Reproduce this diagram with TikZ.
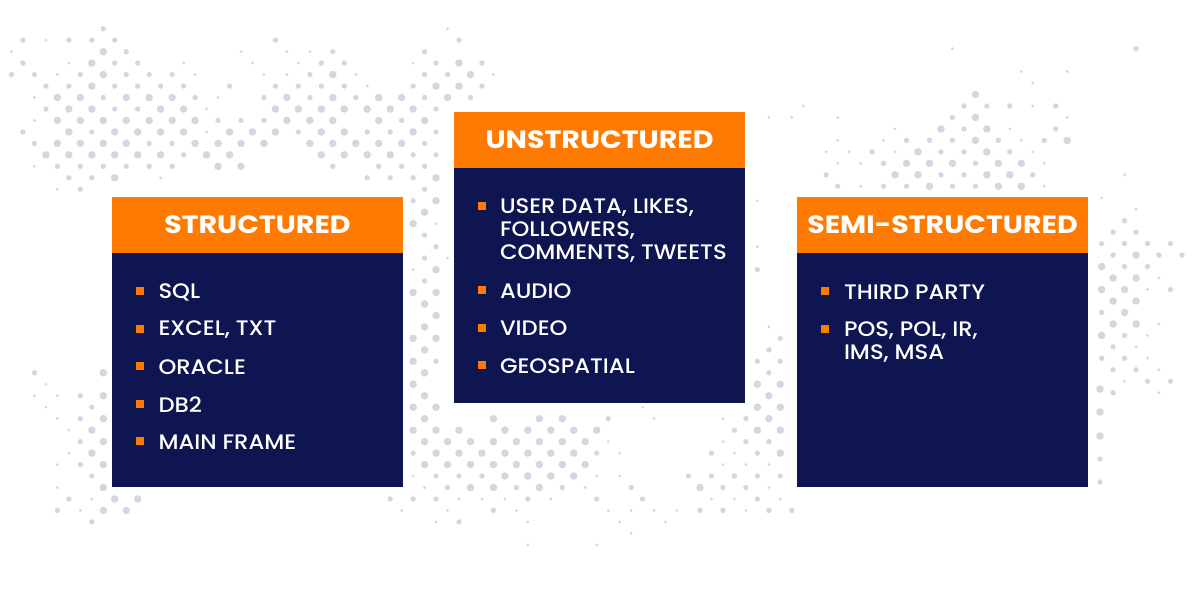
\documentclass[tikz,border=0pt]{standalone}
\usepackage{fontspec}
\setmainfont{Poppins}
\newfontfamily\headfont[FakeStretch=1.14]{Poppins}[BoldFont={* Bold}]
\newfontfamily\entryfont[FakeStretch=1.08]{Poppins Medium}
\usetikzlibrary{positioning}
\definecolor{headorange}{HTML}{FF7A00}
\definecolor{bodynavy}{HTML}{0F1551}
\definecolor{mapgrey}{HTML}{D5D6E1}
\newcommand{\maprows}[1]{%
  \foreach \rw/\pts in {#1} {
    \foreach \cl/\sz in \pts {
      \fill[mapgrey] ({22.95*\cl+11.5*(1-mod(\rw,2))},{28.7+11.47*\rw}) circle[radius=1.1*\sz+0.5];
    }
  }}

\begin{document}
\begin{tikzpicture}[x=1pt,y=-1pt,node distance=29.5pt,
    head/.style={rectangle,fill=headorange,text=white,minimum width=291pt,minimum height=56pt,inner sep=0pt,outer sep=0pt,font=\headfont\fontsize{25}{28}\selectfont\bfseries},
    body/.style={rectangle,fill=bodynavy,minimum width=291pt,inner sep=0pt,outer sep=0pt},
    tick/.style={rectangle,fill=headorange,minimum size=8pt,inner sep=0pt,outer sep=0pt},
    entry/.style={text=white,inner sep=0pt,outer sep=0pt,align=left,yshift=-1pt,font=\entryfont\fontsize{21}{23}\selectfont}]

  \useasboundingbox (0,0) rectangle (1200,600);

  \maprows{0/{4/2,19/1},
    1/{1/2,2/1,3/2,4/2,5/2,12/2,20/2},
    2/{0/1,4/3,5/2,10/1,12/1,13/1,14/2,18/2},
    3/{1/2,3/1,4/3,5/2,6/2,8/1,11/1,13/1,14/2,15/2,18/1,19/2,20/3,21/2},
    4/{0/2,1/2,2/1,3/2,4/3,5/2,6/2,7/2,8/1,11/1,12/1,13/2,14/3,15/1,18/2,19/2,20/3,21/1},
    5/{2/2,3/2,4/3,5/2,6/2,7/2,8/2,10/2,12/2,13/2,14/2,15/2,16/1,18/2,19/3,20/3,21/2},
    6/{1/1,2/3,3/3,4/2,5/3,6/3,7/3,8/2,9/1,11/2,12/3,13/2,14/3,15/2,16/3,17/3,18/2,19/3,20/2},
    7/{2/2,3/3,4/3,5/2,6/2,7/3,8/3,9/1,12/3,13/3,14/3,15/3,16/3,17/3,18/3,19/2},
    8/{1/1,2/3,3/3,4/3,5/3,6/3,7/3,8/3,9/2,10/2,11/2,12/3,13/3,14/3,16/3,17/2,18/3},
    9/{1/2,3/3,4/2,5/3,6/3,7/3,8/3,9/1,10/3,11/3,12/3,13/2,14/3,15/3,16/2,17/2,18/3,19/2},
    10/{1/2,2/3,3/3,4/3,5/3,6/2,7/2,8/3,9/3,10/3,11/3,13/3,14/3,15/3,16/3,17/3,18/2},
    11/{2/3,3/3,4/3,5/3,6/3,7/3,8/2,9/3,10/3,14/3,15/3,16/3,17/3,18/2,19/2},
    12/{1/1,2/2,3/2,4/2,5/2,6/2,7/2,9/3,10/3,14/2,16/2,17/2,18/2},
    13/{3/2,4/2,5/3,7/1,16/2,17/2,18/2,19/3},
    14/{2/1,3/2,18/2},
    15/{18/2,19/3,33/1},
    16/{18/3},
    17/{18/3,19/1},
    18/{18/2},
    19/{19/2,33/1},
    20/{18/2,19/1},
    21/{18/1,19/3,33/2},
    22/{18/2},
    23/{18/3,19/3},
    24/{18/3},
    25/{19/3},
    26/{18/3,33/1},
    27/{18/3,19/3,34/2},
    28/{18/3,33/2},
    29/{18/3,19/2,33/2,34/2},
    30/{1/2,4/3,18/3,33/2},
    31/{2/1,18/3,33/3,34/3},
    32/{1/1,2/1,3/2,4/3,18/3,33/3},
    33/{2/1,4/2,18/3,19/3,28/1,33/3,34/3},
    34/{2/1,3/2,4/3,18/3,21/3,23/3,24/3,26/2,28/1,31/1,32/2,33/3},
    35/{3/1,4/3,18/3,19/3,20/3,22/3,23/3,24/3,25/3,26/3,32/2,33/3,34/3},
    36/{3/2,4/3,18/3,19/3,20/3,21/3,22/3,23/3,24/3,25/3,26/1,31/1,32/2,33/2},
    37/{3/1,4/3,18/2,19/3,20/3,21/3,22/3,23/3,24/3,25/3,26/2,27/1,31/2,32/1,33/2,34/3},
    38/{2/1,3/2,4/3,18/3,19/3,20/3,21/3,22/3,23/3,24/3,25/3,31/1,32/1,33/1},
    39/{4/2,18/1,19/2,20/2,21/2,22/3,23/3,24/3,25/3,26/1,27/1,30/2,31/2,32/2,33/2,34/2},
    40/{2/1,4/3,18/1,19/2,20/3,21/3,22/2,23/3,24/2,25/1,27/2,30/3,31/2,32/2,33/1},
    41/{3/2,4/1,5/3,6/3,17/2,18/2,19/2,20/1,21/1,22/1,23/2,24/1,26/2,28/2,31/1,32/1,33/2,34/1},
    42/{2/2,3/1,4/3,5/3,17/1,19/1,21/2,22/1,26/1,27/1,28/1,29/1,30/2,31/2,32/1,33/2,34/2},
    43/{4/2,19/1,20/2,23/1,27/1,29/1},
    44/{27/1},
    45/{23/1,26/1}}

  \begin{scope}[yshift=3pt]
    \maprows{2/{41/1,49/2},
      4/{44/1,46/1},
      5/{45/1},
      6/{42/3},
      7/{35/1,42/2,43/2,44/2,45/1,46/2},
      8/{33/1,34/1,36/1,41/2,42/3,46/1},
      9/{39/1,41/3,42/2,43/3,44/1,46/2},
      10/{36/1,38/1,39/2,40/2,41/2,42/3,43/2,44/1,45/2,46/3},
      11/{36/1,37/1,38/2,39/1,40/3,41/2,42/2,43/3,44/2,45/1},
      12/{36/1,37/1,38/2,39/3,40/3,41/3,42/2,43/3,44/3,45/1},
      13/{36/2,39/3,40/3,41/2,42/2,43/3,44/3,45/2,49/1},
      14/{36/2,37/1,38/2,39/2,40/3,41/2,42/2,43/3,44/3,45/1},
      15/{48/1},
      16/{49/1},
      17/{49/2},
      18/{48/2,49/2},
      19/{48/2,49/2,50/2,51/2},
      20/{48/2,49/3,50/2,51/2},
      21/{48/3,49/2,50/2},
      22/{48/3,49/3,50/1},
      23/{48/3,49/3,50/1,51/2},
      24/{48/3,49/3},
      25/{48/2,49/3},
      26/{48/3,49/3,50/1},
      27/{48/3,49/2,50/1},
      28/{48/2,49/1},
      29/{48/2,49/2,50/1},
      30/{48/2,49/2,50/1},
      31/{49/1,50/2,51/2},
      32/{48/2,50/1}}
  \end{scope}

  \foreach \y/\sz in {389/3,412/3,436/3,459/2,482/2}
    \fill[mapgrey] (1100,\y) circle[radius=1.1*\sz+0.5];

  \node[head] (shead) at (257.5,225) {STRUCTURED};
  \node[body,minimum height=234pt,below=0pt of shead] (sbody) {};
  \node[tick,below right=34pt and 24pt of shead.south west] (s1) {};
  \node[tick,below of=s1,node distance=37.5pt] (s2) {};
  \node[tick,below of=s2,node distance=37.5pt] (s3) {};
  \node[tick,below of=s3,node distance=37.5pt] (s4) {};
  \node[tick,below of=s4,node distance=37.5pt] (s5) {};
  \node[entry,right=14.5pt of s1] (sql) {SQL};
  \node[entry,right=14.5pt of s2] (excel) {EXCEL, TXT};
  \node[entry,right=14.5pt of s3] (oracle) {ORACLE};
  \node[entry,right=14.5pt of s4] (db) {DB2};
  \node[entry,right=14.5pt of s5] (frame) {MAIN FRAME};

  \node[head] (uhead) at (599.5,140) {UNSTRUCTURED};
  \node[body,minimum height=235pt,below=0pt of uhead] (ubody) {};
  \node[tick,below right=34pt and 24pt of uhead.south west] (u1) {};
  \node[tick,below=76pt of u1] (u2) {};
  \node[tick,below of=u2,node distance=37.5pt] (u3) {};
  \node[tick,below of=u3,node distance=37.5pt] (u4) {};
  \node[entry,right=14pt of u1.north east,anchor=north west,yshift=4pt] (user) {USER DATA, LIKES,\\FOLLOWERS,\\COMMENTS, TWEETS};
  \node[entry,right=14pt of u2] (audio) {AUDIO};
  \node[entry,right=14pt of u3] (video) {VIDEO};
  \node[entry,right=14pt of u4] (geo) {GEOSPATIAL};

  \node[head] (mhead) at (942.5,225) {SEMI-STRUCTURED};
  \node[body,minimum height=234pt,below=0pt of mhead] (mbody) {};
  \node[tick,below right=34pt and 24pt of mhead.south west] (m1) {};
  \node[tick,below of=m1,node distance=37.5pt] (m2) {};
  \node[entry,right=15pt of m1] (third) {THIRD PARTY};
  \node[entry,right=15pt of m2.north east,anchor=north west,yshift=4pt] (pos) {POS, POL, IR,\\IMS, MSA};

\end{tikzpicture}
\end{document}
